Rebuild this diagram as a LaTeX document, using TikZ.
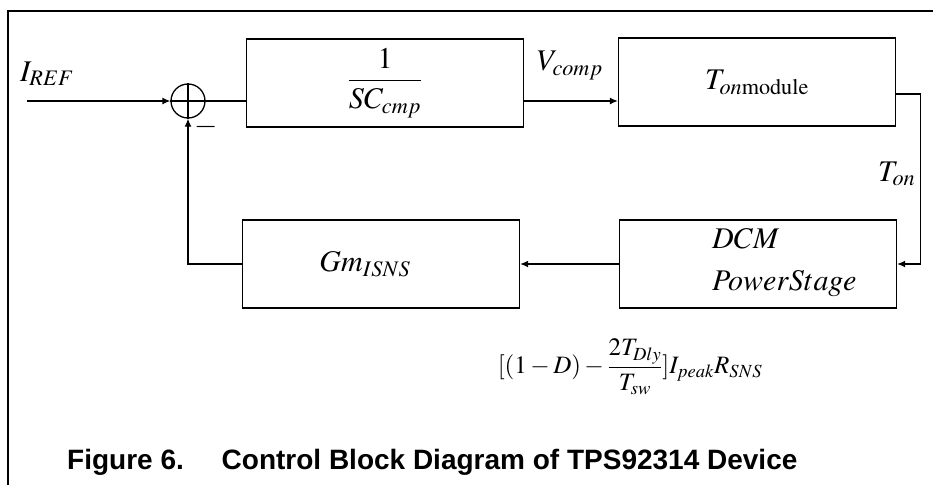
\documentclass[tikz,border=0pt]{standalone}
\usepackage{mathptmx}
\usepackage[no-math]{fontspec}
\newfontfamily\capfont{Liberation Sans}
\usetikzlibrary{arrows.meta}

\begin{document}
\begin{tikzpicture}[x=1pt,y=-1pt,
  block/.style={rectangle,draw,line width=1.3pt,minimum width=277pt,minimum height=88pt,inner sep=0pt},
  flow/.style={line width=1.3pt,-{Latex[length=8pt,width=7pt]}},
  wire/.style={line width=1.3pt},
  lbl/.style={font=\fontsize{30}{36}\selectfont,inner sep=0pt}]
  \useasboundingbox (0,0) rectangle (933,485);
  \draw[line width=2pt] (8,485) -- (8,11) -- (933,11);

  \node (Sum) [circle,draw,line width=1.3pt,minimum size=34pt,inner sep=0pt] at (188,101) {};
  \draw[wire] (Sum.north) -- (Sum.south) (Sum.west) -- (Sum.east);
  \node (Minus) [lbl,anchor=center] at (206,127) {$-$};
  \node (Integ) [block] at (385,83) {};
  \node (IntegText) [lbl,anchor=center] at (Integ.center) {$\displaystyle\frac{1}{SC_{cmp}}$};
  \node (TonMod) [block] at (757,82) {};
  \node (TonModText) [lbl] at (TonMod.center) {$T_{on\mathrm{module}}$};
  \node (Dcm) [block] at (758,264) {};
  \node (DcmText) [lbl,anchor=west,align=left] at (712,262) {$DCM$\\[6pt]$PowerStage$};
  \node (GmSns) [block] at (381,264) {};
  \node (GmSnsText) [lbl] at (365,264) {$Gm_{ISNS}$};

  \coordinate (In) at (27,101);
  \node (IRef) [lbl,anchor=south west] at (20,86) {$I_{REF}$};
  \node (VComp) [lbl,anchor=south west] at (537,80) {$V_{comp}$};
  \node (Ton) [lbl,anchor=west] at (878,174) {$T_{on}$};

  \draw[flow] (In) -- (Sum.west);
  \draw[wire] (Sum.east) -- (Integ.west |- Sum.east);
  \draw[flow] (Integ.east |- Sum.east) -- (TonMod.west |- Sum.east);
  \draw[flow] (TonMod.east |- 0,94) -- ++(24,0) |- (Dcm.east);
  \draw[flow] (Dcm.west) -- (GmSns.east);
  \draw[flow] (GmSns.west) -| (Sum.south);

  \node (Gain) [font=\fontsize{25}{30}\selectfont,inner sep=0pt] at (630,367)
    {$[(1-D)-\displaystyle\frac{2T_{Dly}}{T_{sw}}]I_{peak}R_{SNS}$};

  \node (Caption) [anchor=base west,inner sep=0pt,font=\capfont\bfseries\fontsize{28}{33}\selectfont] at (67,469)
    {Figure 6.\hspace{1.35em}Control Block Diagram of TPS92314 Device};
\end{tikzpicture}
\end{document}
